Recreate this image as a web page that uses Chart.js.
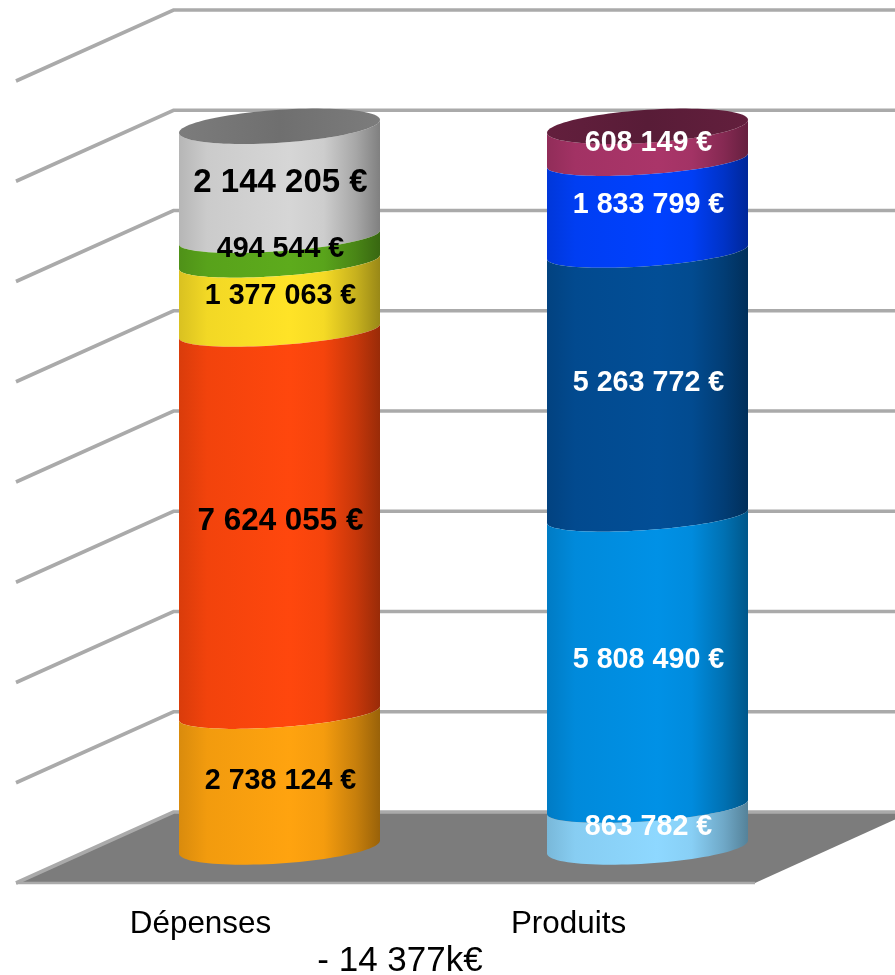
<!DOCTYPE html>
<html><head><meta charset="utf-8">
<style>html,body{margin:0;padding:0;background:#fff}canvas{display:block}</style>
<script src="https://cdn.jsdelivr.net/npm/chart.js@4"></script></head>
<body><canvas id="c" width="895" height="975"></canvas>
<script>
const categories = ["Dépenses", "Produits"];
const depensesValues = [2738124, 7624055, 1377063, 494544, 2144205];
const produitsValues = [863782, 5808490, 5263772, 1833799, 608149];
const depensesColours = ["#ffa30f", "#ff470d", "#ffe327", "#5dab1c", "#d6d6d6"];
const produitsColours = ["#8ed8ff", "#0091e6", "#024e96", "#0041ff", "#aa3569"];
const yTicksMax = 16000000;
const yTicksStep = 2000000;
const totalNote = "- 14 377k€";
const FONT = '"Liberation Sans", Arial, sans-serif';

const A = 100.5;
let yScale = null, stackTopValue = depensesValues.reduce((s, v) => s + v, 0);
/* shape of a band edge: the two ends of the cylinder are true ellipses, inner edges sit a little lower and flatter */
function edge(y) {
  const end = Math.abs(y - yScale.getPixelForValue(0)) < 1 || Math.abs(y - yScale.getPixelForValue(stackTopValue)) < 1;
  return end ? { cy: y, s: 6.5, b: 16.5 } : { cy: y + 3.5, s: 7, b: 14 };
}
function front(ctx, cx, y, rev, first) {
  const e = edge(y), n = 48;
  for (let i = 0; i <= n; i++) {
    const t = Math.PI * (rev ? 1 - i / n : i / n);
    const px = cx + A * Math.cos(t), py = e.cy - e.s * Math.cos(t) + e.b * Math.sin(t);
    if (i === 0 && first) ctx.moveTo(px, py); else ctx.lineTo(px, py);
  }
}
function mix(hex, f) {
  const n = parseInt(hex.slice(1), 16);
  const r = (n >> 16) & 255, g = (n >> 8) & 255, b = n & 255;
  return `rgb(${Math.round(r * f)},${Math.round(g * f)},${Math.round(b * f)})`;
}
function shade(ctx, cx, c) {
  const g = ctx.createLinearGradient(cx - A, 0, cx + A, 0);
  g.addColorStop(0, mix(c, .85));
  g.addColorStop(.14, mix(c, .95));
  g.addColorStop(.55, c);
  g.addColorStop(.72, mix(c, .96));
  g.addColorStop(.88, mix(c, .78));
  g.addColorStop(1, mix(c, .6));
  return g;
}
Chart.BarElement.prototype.draw = function (ctx) {
  const cx = this.x, c = this.options.backgroundColor;
  ctx.save();
  ctx.beginPath();
  front(ctx, cx, this.base, false, true);
  front(ctx, cx, this.y, true, false);
  ctx.closePath();
  ctx.fillStyle = shade(ctx, cx, c);
  ctx.fill();
  ctx.restore();
};

const walls = {
  id: 'walls',
  beforeDatasetsDraw(chart) {
    const { ctx, chartArea: a, scales: { y } } = chart;
    yScale = y;
    const fx = a.left - 79.5, bx = a.left + 78, p0 = y.getPixelForValue(0);
    ctx.save();
    ctx.fillStyle = '#7c7c7c';
    ctx.beginPath();
    ctx.moveTo(fx, p0 + 36); ctx.lineTo(a.right - 76.5, p0 + 36);
    ctx.lineTo(a.right + 80, p0 - 35); ctx.lineTo(bx, p0 - 35); ctx.closePath();
    ctx.fill();
    ctx.strokeStyle = '#aaaaaa';
    ctx.lineWidth = 3.6;
    y.ticks.forEach(t => {
      const p = y.getPixelForValue(t.value);
      ctx.beginPath();
      ctx.moveTo(fx, p + 36); ctx.lineTo(bx, p - 35); ctx.lineTo(895, p - 35);
      ctx.stroke();
    });
    ctx.lineWidth = 2.5;
    ctx.beginPath(); ctx.moveTo(fx, p0 + 36); ctx.lineTo(a.right - 76.5, p0 + 36); ctx.stroke();
    ctx.restore();
  }
};
const caps = {
  id: 'caps',
  afterDatasetsDraw(chart) {
    const ctx = chart.ctx;
    const tops = {};
    chart.data.datasets.forEach((ds, di) => {
      chart.getDatasetMeta(di).data.forEach((bar, i) => {
        if (ds.data[i] != null) tops[i] = { bar, colour: ds.backgroundColor };
      });
    });
    Object.values(tops).forEach(({ bar, colour }) => {
      const e = edge(bar.y), n = 96;
      ctx.save();
      ctx.beginPath();
      for (let i = 0; i <= n; i++) {
        const t = 2 * Math.PI * i / n;
        const px = bar.x + A * Math.cos(t), py = e.cy - e.s * Math.cos(t) + e.b * Math.sin(t);
        if (i === 0) ctx.moveTo(px, py); else ctx.lineTo(px, py);
      }
      ctx.closePath();
      const g = ctx.createLinearGradient(bar.x - A, 0, bar.x + A, 0);
      g.addColorStop(0, mix(colour, .58));
      g.addColorStop(.5, mix(colour, .52));
      g.addColorStop(1, mix(colour, .58));
      ctx.fillStyle = g;
      ctx.fill();
      ctx.restore();
    });
    chart.data.datasets.forEach((ds, di) => {
      chart.getDatasetMeta(di).data.forEach((bar, i) => {
        const v = ds.data[i];
        if (v == null) return;
        const txt = String(v).replace(/\B(?=(\d{3})+(?!\d))/g, ' ') + ' €';
        const size = v === 2144205 ? 33 : v === 7624055 ? 31.4 : 28.7;
        ctx.save();
        ctx.font = `bold ${size}px ${FONT}`;
        ctx.fillStyle = i === 0 ? '#000' : '#fff';
        ctx.textAlign = 'center'; ctx.textBaseline = 'middle';
        ctx.fillText(txt, bar.x + 1, (bar.y + bar.base) / 2 + (i === 0 ? 3 : 2));
        ctx.restore();
      });
    });
    ctx.save();
    ctx.font = `35px ${FONT}`;
    ctx.fillStyle = '#000'; ctx.textAlign = 'center'; ctx.textBaseline = 'middle';
    ctx.fillText(totalNote, 400, 961);
    ctx.restore();
  }
};

const datasets = [
  ...depensesValues.map((v, i) => ({ label: 'D' + i, data: [v, null], backgroundColor: depensesColours[i], clip: false })),
  ...produitsValues.map((v, i) => ({ label: 'P' + i, data: [null, v], backgroundColor: produitsColours[i], clip: false }))
];
new Chart(document.getElementById('c'), {
  type: 'bar',
  data: { labels: categories, datasets },
  plugins: [walls, caps],
  options: {
    responsive: false, animation: false,
    barPercentage: .546, categoryPercentage: 1,
    layout: { padding: { left: 95.5, right: 63.5, top: 45, bottom: 0 } },
    plugins: { legend: { display: false }, tooltip: { enabled: false }, title: { display: false } },
    scales: {
      x: {
        stacked: true,
        grid: { display: false, drawTicks: false }, border: { display: false },
        ticks: { color: '#000', font: { family: FONT, size: 31.4 }, labelOffset: -79, padding: 59, maxRotation: 0, autoSkip: false },
        afterFit: s => { s.height = 128; }
      },
      y: {
        stacked: true, min: 0, max: yTicksMax,
        grid: { display: false, drawTicks: false }, border: { display: false },
        ticks: { display: false, stepSize: yTicksStep },
        afterFit: s => { s.width = 0; }
      }
    }
  }
});
</script></body></html>
